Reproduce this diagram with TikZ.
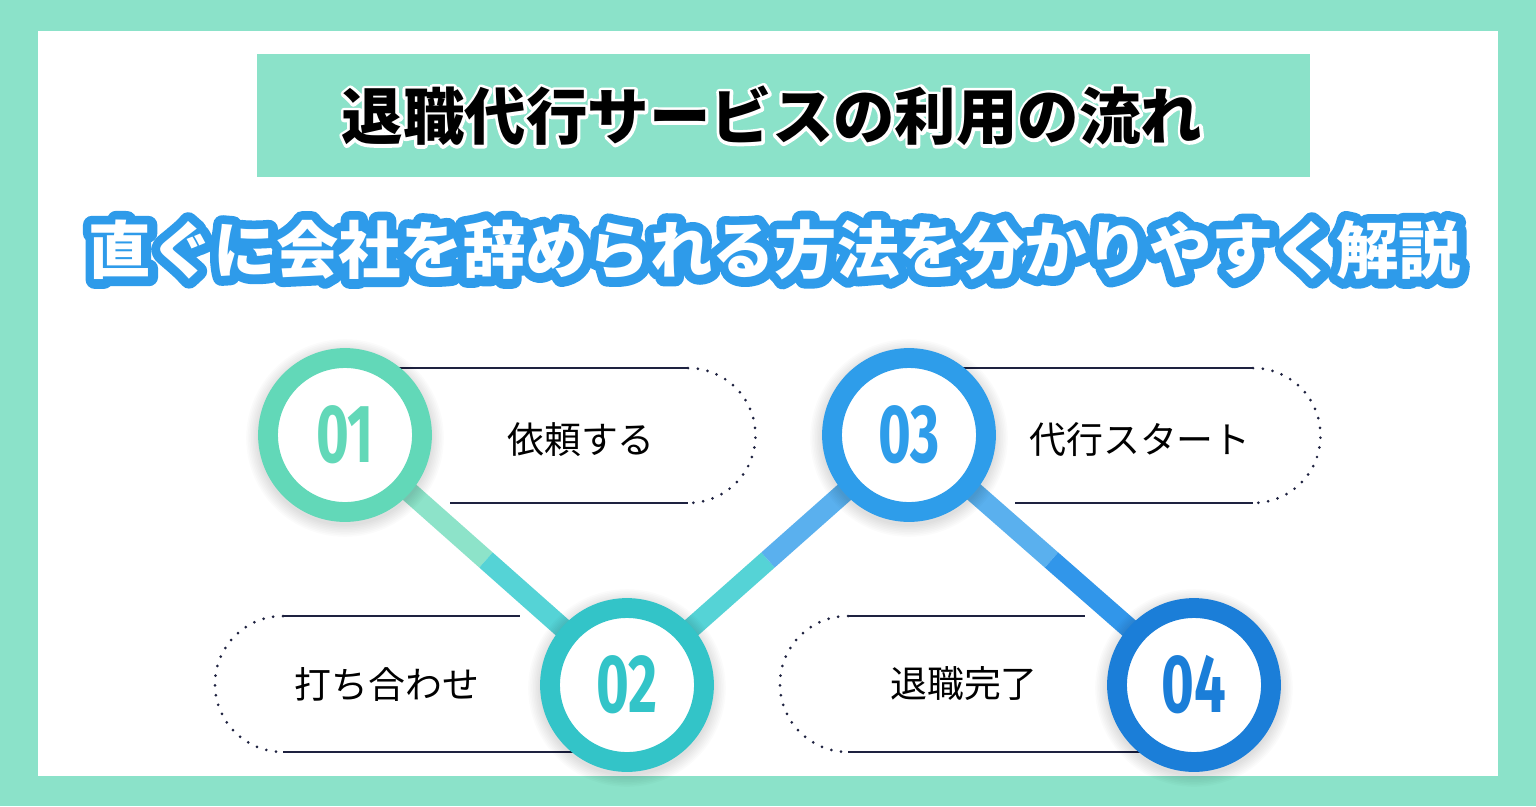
\documentclass[tikz,border=0pt]{standalone}
\usepackage{fontspec}
\usetikzlibrary{calc}

\newfontfamily\jpfont{Noto Sans CJK JP}
\newfontfamily\numfont{Fira Sans}

% stroked copy of a text (outline width #1 in bp)
\newcommand\strokedtext[2]{\special{pdf:literal direct 2 Tr #1 w 1 j}#2\special{pdf:literal direct 0 Tr 0.4 w 0 j}}

\definecolor{frame}{HTML}{8BE2C9}
\definecolor{navy}{HTML}{1E2240}
\definecolor{subblue}{HTML}{2E9BEA}
\definecolor{cone}{HTML}{62D8B8}
\definecolor{ctwo}{HTML}{33C4C8}
\definecolor{cthree}{HTML}{2E9DEA}
\definecolor{cfour}{HTML}{1B7ED8}
\definecolor{segmint}{HTML}{8DE3C9}
\definecolor{segcyan}{HTML}{55D3D6}
\definecolor{segsky}{HTML}{5AB0EE}
\definecolor{segblue}{HTML}{3196EA}

\tikzset{
  ring/.style={circle, draw=#1, text=#1, line width=11.3pt, fill=white,
    minimum size=3.08cm, inner sep=0pt, outer sep=0pt,
    font=\numfont\bfseries\fontsize{47}{47}\selectfont},
  titlefont/.style={font=\jpfont\bfseries\fontsize{35}{35}\selectfont},
  subfont/.style={font=\jpfont\bfseries\fontsize{35.5}{35.5}\selectfont},
  seg/.style={line width=11.5pt},
  rail/.style={navy, line width=1.3pt},
  dots/.style={navy, line width=1.7pt, line cap=round, dash pattern=on 0pt off 5.6pt},
  steptext/.style={font=\jpfont\fontsize{21}{21}\selectfont, text=black},
}

\begin{document}
\begin{tikzpicture}[x=0.02cm, y=-0.02cm]
\useasboundingbox (0,0) rectangle (1536,806);

% frame and headings
\fill[frame] (0,0) rectangle (1536,806);
\fill[white] (38,31) rectangle (1498,776);
\fill[frame] (257,54) rectangle (1310,177);

\node[titlefont, text=white] (titleedge) at (772,116)
  {\strokedtext{3.6}{退職代行サービスの利用の流れ}};
\node[titlefont] (title) at (titleedge) {退職代行サービスの利用の流れ};
\node[subfont, text=subblue] (subedge) at (775,250)
  {\strokedtext{10.5}{直ぐに会社を辞められる方法を分かりやすく解説}};
\node[subfont, text=white] (sub) at (subedge) {直ぐに会社を辞められる方法を分かりやすく解説};

\coordinate (c1) at (345,435);
\coordinate (c2) at (627,685);
\coordinate (c3) at (909,435);
\coordinate (c4) at (1194,685);

% pills
\draw[rail] (395,368) -- (688,368);
\draw[rail] (450,503) -- (688,503);
\draw[dots] (688,368) arc[start angle=-90, end angle=90, radius=67.5];

\draw[rail] (283,616) -- (520,616);
\draw[rail] (283,752) -- (580,752);
\draw[dots] (283,616) arc[start angle=-90, end angle=-270, radius=68];

\draw[rail] (960,368) -- (1253,368);
\draw[rail] (1015,503) -- (1253,503);
\draw[dots] (1253,368) arc[start angle=-90, end angle=90, radius=67.5];

\draw[rail] (848,616) -- (1085,616);
\draw[rail] (848,752) -- (1145,752);
\draw[dots] (848,616) arc[start angle=-90, end angle=-270, radius=68];

% connectors
\draw[seg, segmint] (c1) -- ($(c1)!0.5!(c2)$);
\draw[seg, segcyan] ($(c1)!0.5!(c2)$) -- (c2);
\draw[seg, segcyan] (c2) -- ($(c2)!0.5!(c3)$);
\draw[seg, segsky] ($(c2)!0.5!(c3)$) -- (c3);
\draw[seg, segsky] (c3) -- ($(c3)!0.5!(c4)$);
\draw[seg, segblue] ($(c3)!0.5!(c4)$) -- (c4);

% soft shadows
\foreach \c in {c1,c2,c3,c4}
  \foreach \r in {1,...,8}
    \fill[black, opacity=0.014] ($(\c)+(0,3)$) circle[radius=86+\r*1.6];

\node[ring=cone]   (s1) at (c1) {\scalebox{0.68}[1]{01}};
\node[ring=ctwo]   (s2) at (c2) {\scalebox{0.68}[1]{02}};
\node[ring=cthree] (s3) at (c3) {\scalebox{0.68}[1]{03}};
\node[ring=cfour]  (s4) at (c4) {\scalebox{0.68}[1]{04}};

\node[steptext] (t1) at (581,440) {依頼する};
\node[steptext] (t2) at (387,684) {打ち合わせ};
\node[steptext] (t3) at (1140,440) {代行スタート};
\node[steptext] (t4) at (964,684) {退職完了};
\end{tikzpicture}
\end{document}
